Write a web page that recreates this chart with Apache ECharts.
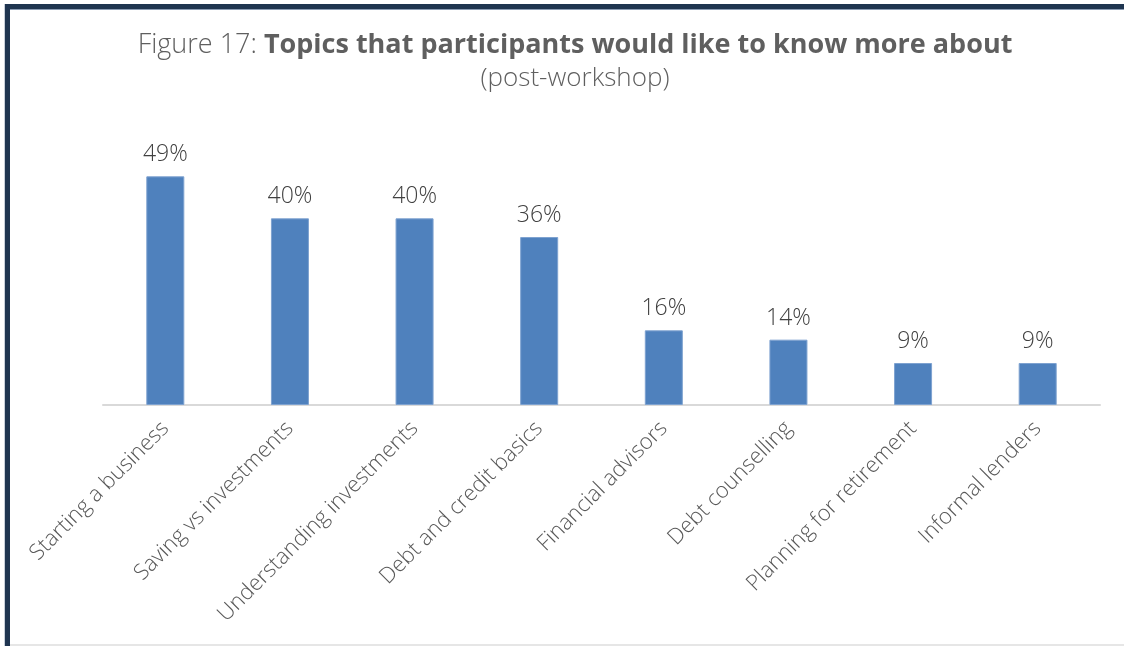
<!DOCTYPE html>
<html>
<head>
<meta charset="utf-8">
<script src="https://cdn.jsdelivr.net/npm/echarts@6/dist/echarts.min.js"></script>
<style>
  html, body { margin: 0; padding: 0; background: #ffffff; }
  #chart { width: 1124px; height: 646px; }
</style>
</head>
<body>
<div id="chart"></div>
<script>
// Topics participants want to learn more about (share of respondents, %)
const topics = [
  'Starting a business',
  'Saving vs investments',
  'Understanding investments',
  'Debt and credit basics',
  'Financial advisors',
  'Debt counselling',
  'Planning for retirement',
  'Informal lenders'
];
const shares = [49, 40, 40, 36, 16, 14, 9, 9];

const FONT = '"Open Sans", Lato, sans-serif';
const chart = echarts.init(document.getElementById('chart'), null, { renderer: 'canvas' });

chart.setOption({
  animation: false,
  backgroundColor: '#ffffff',
  title: {
    left: 570,
    top: 27,
    textAlign: 'center',
    itemGap: 7,
    text: '{n|Figure 17: }{b|Topics that participants would like to know more about}',
    subtext: '(post-workshop)',
    textStyle: {
      rich: {
        n: { fontFamily: FONT, fontSize: 27, fontWeight: 300, color: '#5f5f5f' },
        b: { fontFamily: FONT, fontSize: 27, fontWeight: 'bold', color: '#5f5f5f' }
      }
    },
    subtextStyle: { fontFamily: FONT, fontSize: 26, fontWeight: 300, color: '#5f5f5f' }
  },
  grid: { left: 103, right: 24, top: 125, bottom: 241, containLabel: false },
  xAxis: {
    type: 'category',
    data: topics,
    axisLine: { show: true, lineStyle: { color: '#d9d9d9', width: 2 } },
    axisTick: { show: false },
    axisLabel: {
      interval: 0,
      rotate: 45,
      margin: 20,
      fontFamily: FONT,
      fontSize: 22,
      fontWeight: 300,
      color: '#595959'
    }
  },
  yAxis: {
    type: 'value',
    min: 0,
    max: 60,
    show: false,
    splitLine: { show: false }
  },
  series: [{
    type: 'bar',
    data: shares,
    barWidth: '30.5%',
    itemStyle: { color: '#4f81bd', borderColor: '#7ea2d0', borderWidth: 1 },
    label: {
      show: true,
      position: 'top',
      distance: 10,
      formatter: '{c}%',
      fontFamily: FONT,
      fontSize: 23,
      fontWeight: 300,
      color: '#404040'
    }
  }],
  graphic: [
    // dark frame along the top and left edges
    { type: 'rect', shape: { x: 4, y: 4, width: 1120, height: 5 }, style: { fill: '#1f3550' }, silent: true },
    { type: 'rect', shape: { x: 4, y: 9, width: 1120, height: 1 }, style: { fill: '#8a9bb3' }, silent: true },
    { type: 'rect', shape: { x: 4, y: 4, width: 1, height: 642 }, style: { fill: '#c8d0da' }, silent: true },
    { type: 'rect', shape: { x: 5, y: 4, width: 5, height: 642 }, style: { fill: '#1f3550' }, silent: true },
    { type: 'rect', shape: { x: 10, y: 644, width: 1114, height: 2 }, style: { fill: '#e6e6e6' }, silent: true }
  ]
});
</script>
</body>
</html>
